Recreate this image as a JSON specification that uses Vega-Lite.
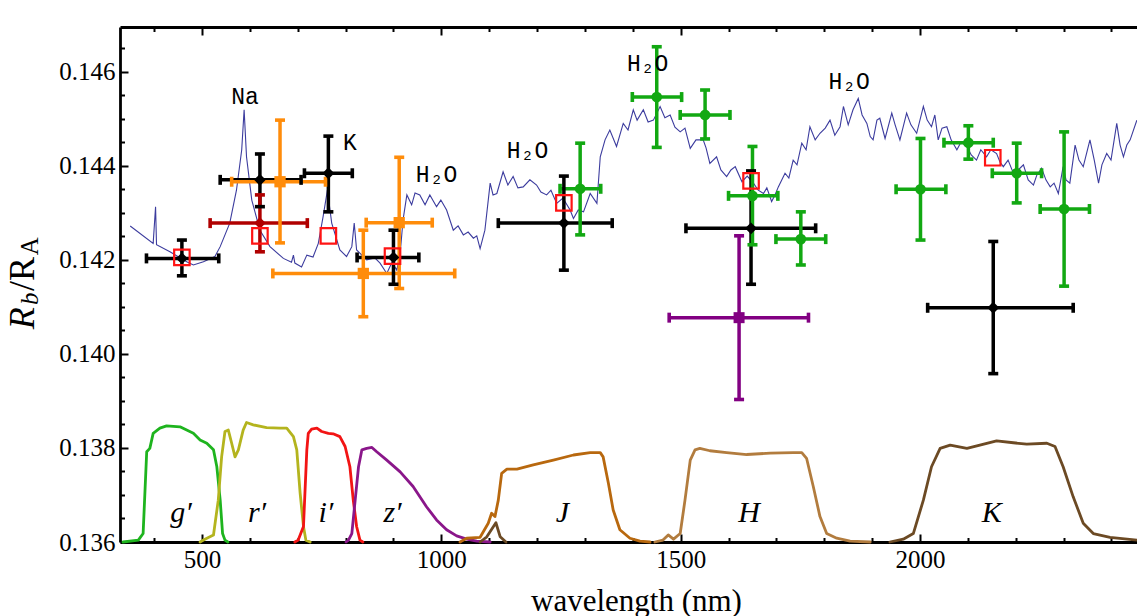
{
  "$schema": "https://vega.github.io/schema/vega-lite/v6.json",
  "width": 1017,
  "height": 515,
  "autosize": {"type": "none"},
  "padding": {"left": 120, "top": 27, "right": 0, "bottom": 74},
  "background": "white",
  "config": {"view": {"stroke": null}, "font": "Liberation Serif", "axis": {"labelFont": "Liberation Serif", "titleFont": "Liberation Serif"}},
  "resolve": {"axis": {"x": "independent", "y": "independent"}},
  "datasets": {
    "spectrum": [
      {"wl":350,"val":0.14272},{"wl":398,"val":0.14235},{"wl":403,"val":0.14313},{"wl":405,"val":0.14232},{"wl":433,"val":0.14217},{"wl":468,"val":0.14196},{"wl":482,"val":0.14189},{"wl":503,"val":0.14196},{"wl":527,"val":0.14207},{"wl":538,"val":0.14228},{"wl":558,"val":0.14278},{"wl":572,"val":0.14348},{"wl":583,"val":0.14434},{"wl":588,"val":0.14519},{"wl":593,"val":0.14419},{"wl":604,"val":0.14327},{"wl":621,"val":0.14263},{"wl":642,"val":0.14228},{"wl":670,"val":0.14203},{"wl":687,"val":0.14195},{"wl":691,"val":0.1421},{"wl":694,"val":0.14193},{"wl":708,"val":0.14185},{"wl":719,"val":0.1421},{"wl":732,"val":0.14206},{"wl":743,"val":0.14235},{"wl":753,"val":0.14292},{"wl":762,"val":0.14348},{"wl":771,"val":0.14278},{"wl":788,"val":0.14221},{"wl":802,"val":0.14207},{"wl":813,"val":0.14228},{"wl":818,"val":0.14278},{"wl":823,"val":0.14221},{"wl":844,"val":0.142},{"wl":861,"val":0.14204},{"wl":872,"val":0.14193},{"wl":886,"val":0.14171},{"wl":897,"val":0.14195},{"wl":907,"val":0.14178},{"wl":914,"val":0.14214},{"wl":920,"val":0.14285},{"wl":928,"val":0.14338},{"wl":938,"val":0.14317},{"wl":945,"val":0.14342},{"wl":955,"val":0.14338},{"wl":966,"val":0.14317},{"wl":976,"val":0.14338},{"wl":990,"val":0.14313},{"wl":999,"val":0.14327},{"wl":1011,"val":0.14306},{"wl":1025,"val":0.14263},{"wl":1035,"val":0.14272},{"wl":1046,"val":0.14253},{"wl":1056,"val":0.14259},{"wl":1067,"val":0.14246},{"wl":1074,"val":0.14251},{"wl":1081,"val":0.14224},{"wl":1091,"val":0.14263},{"wl":1102,"val":0.14363},{"wl":1108,"val":0.14338},{"wl":1116,"val":0.14341},{"wl":1129,"val":0.14387},{"wl":1139,"val":0.14359},{"wl":1150,"val":0.14377},{"wl":1160,"val":0.14353},{"wl":1171,"val":0.14355},{"wl":1185,"val":0.1437},{"wl":1199,"val":0.14359},{"wl":1208,"val":0.14344},{"wl":1220,"val":0.14338},{"wl":1229,"val":0.14348},{"wl":1241,"val":0.1432},{"wl":1254,"val":0.14331},{"wl":1269,"val":0.14306},{"wl":1276,"val":0.14288},{"wl":1286,"val":0.14306},{"wl":1297,"val":0.14302},{"wl":1311,"val":0.14341},{"wl":1325,"val":0.1432},{"wl":1332,"val":0.14419},{"wl":1342,"val":0.14455},{"wl":1352,"val":0.14476},{"wl":1366,"val":0.14441},{"wl":1380,"val":0.1449},{"wl":1390,"val":0.14476},{"wl":1401,"val":0.14519},{"wl":1409,"val":0.14497},{"wl":1422,"val":0.14519},{"wl":1432,"val":0.14493},{"wl":1443,"val":0.14497},{"wl":1457,"val":0.14526},{"wl":1467,"val":0.14502},{"wl":1478,"val":0.14508},{"wl":1488,"val":0.14482},{"wl":1499,"val":0.14472},{"wl":1509,"val":0.1448},{"wl":1520,"val":0.14437},{"wl":1532,"val":0.14455},{"wl":1547,"val":0.14455},{"wl":1553,"val":0.14438},{"wl":1561,"val":0.14405},{"wl":1575,"val":0.14419},{"wl":1584,"val":0.14391},{"wl":1596,"val":0.14377},{"wl":1605,"val":0.14391},{"wl":1614,"val":0.14398},{"wl":1628,"val":0.14366},{"wl":1639,"val":0.14378},{"wl":1652,"val":0.14363},{"wl":1662,"val":0.14348},{"wl":1673,"val":0.14341},{"wl":1680,"val":0.14353},{"wl":1690,"val":0.14324},{"wl":1697,"val":0.14338},{"wl":1704,"val":0.14355},{"wl":1718,"val":0.14384},{"wl":1726,"val":0.14374},{"wl":1735,"val":0.14412},{"wl":1743,"val":0.14402},{"wl":1753,"val":0.14448},{"wl":1762,"val":0.14434},{"wl":1770,"val":0.14483},{"wl":1781,"val":0.14455},{"wl":1791,"val":0.14469},{"wl":1802,"val":0.1448},{"wl":1812,"val":0.14497},{"wl":1822,"val":0.14465},{"wl":1833,"val":0.14483},{"wl":1840,"val":0.14526},{"wl":1850,"val":0.14487},{"wl":1860,"val":0.14519},{"wl":1871,"val":0.14543},{"wl":1879,"val":0.14508},{"wl":1889,"val":0.1449},{"wl":1896,"val":0.14462},{"wl":1902,"val":0.14455},{"wl":1910,"val":0.14497},{"wl":1916,"val":0.14501},{"wl":1927,"val":0.14458},{"wl":1941,"val":0.14512},{"wl":1948,"val":0.14487},{"wl":1958,"val":0.14455},{"wl":1972,"val":0.14512},{"wl":1981,"val":0.14487},{"wl":1993,"val":0.14469},{"wl":2007,"val":0.14526},{"wl":2015,"val":0.14497},{"wl":2024,"val":0.14483},{"wl":2031,"val":0.14508},{"wl":2038,"val":0.14455},{"wl":2046,"val":0.1448},{"wl":2056,"val":0.14483},{"wl":2065,"val":0.14455},{"wl":2077,"val":0.14434},{"wl":2086,"val":0.14451},{"wl":2098,"val":0.14441},{"wl":2107,"val":0.14423},{"wl":2118,"val":0.14412},{"wl":2127,"val":0.14434},{"wl":2139,"val":0.14419},{"wl":2148,"val":0.14434},{"wl":2160,"val":0.14426},{"wl":2167,"val":0.14408},{"wl":2174,"val":0.14398},{"wl":2184,"val":0.14412},{"wl":2195,"val":0.14384},{"wl":2205,"val":0.14391},{"wl":2216,"val":0.14402},{"wl":2226,"val":0.1437},{"wl":2237,"val":0.14359},{"wl":2244,"val":0.1438},{"wl":2254,"val":0.14395},{"wl":2263,"val":0.1437},{"wl":2272,"val":0.14355},{"wl":2280,"val":0.14363},{"wl":2289,"val":0.14341},{"wl":2299,"val":0.14398},{"wl":2305,"val":0.1437},{"wl":2313,"val":0.14363},{"wl":2324,"val":0.14444},{"wl":2332,"val":0.14412},{"wl":2341,"val":0.14398},{"wl":2355,"val":0.14455},{"wl":2364,"val":0.14412},{"wl":2373,"val":0.14363},{"wl":2380,"val":0.14402},{"wl":2390,"val":0.14426},{"wl":2399,"val":0.14412},{"wl":2411,"val":0.1449},{"wl":2418,"val":0.14444},{"wl":2425,"val":0.14419},{"wl":2432,"val":0.14444},{"wl":2439,"val":0.14455},{"wl":2453,"val":0.14497}
    ],
    "filters": [
      {"band":"g","piece":"g","wl":335,"val":0.136},{"band":"g","piece":"g","wl":367,"val":0.13604},{"band":"g","piece":"g","wl":377,"val":0.13618},{"band":"g","piece":"g","wl":384.5,"val":0.13792},{"band":"g","piece":"g","wl":391,"val":0.13799},{"band":"g","piece":"g","wl":398,"val":0.13831},{"band":"g","piece":"g","wl":412,"val":0.13842},{"band":"g","piece":"g","wl":426,"val":0.13847},{"band":"g","piece":"g","wl":454,"val":0.13845},{"band":"g","piece":"g","wl":468,"val":0.13838},{"band":"g","piece":"g","wl":482,"val":0.13831},{"band":"g","piece":"g","wl":496,"val":0.13817},{"band":"g","piece":"g","wl":510,"val":0.1381},{"band":"g","piece":"g","wl":524,"val":0.13796},{"band":"g","piece":"g","wl":531,"val":0.1376},{"band":"g","piece":"g","wl":538,"val":0.13689},{"band":"g","piece":"g","wl":543,"val":0.13618},{"band":"g","piece":"g","wl":548,"val":0.13604},{"band":"g","piece":"g","wl":554,"val":0.136},
      {"band":"r","piece":"r","wl":496,"val":0.136},{"band":"r","piece":"r","wl":506,"val":0.13606},{"band":"r","piece":"r","wl":524,"val":0.13615},{"band":"r","piece":"r","wl":534,"val":0.13689},{"band":"r","piece":"r","wl":541,"val":0.13781},{"band":"r","piece":"r","wl":548,"val":0.13835},{"band":"r","piece":"r","wl":555,"val":0.13838},{"band":"r","piece":"r","wl":562,"val":0.1381},{"band":"r","piece":"r","wl":569,"val":0.13781},{"band":"r","piece":"r","wl":576,"val":0.13796},{"band":"r","piece":"r","wl":586,"val":0.13838},{"band":"r","piece":"r","wl":593,"val":0.13854},{"band":"r","piece":"r","wl":607,"val":0.13849},{"band":"r","piece":"r","wl":635,"val":0.13843},{"band":"r","piece":"r","wl":663,"val":0.13842},{"band":"r","piece":"r","wl":677,"val":0.13842},{"band":"r","piece":"r","wl":691,"val":0.13824},{"band":"r","piece":"r","wl":698,"val":0.13796},{"band":"r","piece":"r","wl":705,"val":0.13704},{"band":"r","piece":"r","wl":712,"val":0.13633},{"band":"r","piece":"r","wl":717,"val":0.13604},{"band":"r","piece":"r","wl":726,"val":0.136},
      {"band":"i","piece":"i","wl":694,"val":0.136},{"band":"i","piece":"i","wl":701,"val":0.13604},{"band":"i","piece":"i","wl":712,"val":0.13633},{"band":"i","piece":"i","wl":719,"val":0.13796},{"band":"i","piece":"i","wl":722,"val":0.13831},{"band":"i","piece":"i","wl":729,"val":0.1384},{"band":"i","piece":"i","wl":740,"val":0.13842},{"band":"i","piece":"i","wl":750,"val":0.13835},{"band":"i","piece":"i","wl":764,"val":0.13831},{"band":"i","piece":"i","wl":774,"val":0.1383},{"band":"i","piece":"i","wl":788,"val":0.13824},{"band":"i","piece":"i","wl":799,"val":0.13803},{"band":"i","piece":"i","wl":809,"val":0.1376},{"band":"i","piece":"i","wl":816,"val":0.13689},{"band":"i","piece":"i","wl":823,"val":0.13633},{"band":"i","piece":"i","wl":830,"val":0.13604},{"band":"i","piece":"i","wl":836,"val":0.136},
      {"band":"z","piece":"z","wl":801,"val":0.136},{"band":"z","piece":"z","wl":806,"val":0.13604},{"band":"z","piece":"z","wl":813,"val":0.13618},{"band":"z","piece":"z","wl":820,"val":0.13689},{"band":"z","piece":"z","wl":827,"val":0.1376},{"band":"z","piece":"z","wl":834,"val":0.13796},{"band":"z","piece":"z","wl":844,"val":0.13799},{"band":"z","piece":"z","wl":855,"val":0.13801},{"band":"z","piece":"z","wl":865,"val":0.13792},{"band":"z","piece":"z","wl":886,"val":0.13774},{"band":"z","piece":"z","wl":914,"val":0.13749},{"band":"z","piece":"z","wl":941,"val":0.13718},{"band":"z","piece":"z","wl":969,"val":0.13675},{"band":"z","piece":"z","wl":990,"val":0.13647},{"band":"z","piece":"z","wl":1011,"val":0.13626},{"band":"z","piece":"z","wl":1032,"val":0.13613},{"band":"z","piece":"z","wl":1053,"val":0.13606},{"band":"z","piece":"z","wl":1074,"val":0.13602},{"band":"z","piece":"z","wl":1102,"val":0.136},
      {"band":"J","piece":"J","wl":1039,"val":0.136},{"band":"J","piece":"J","wl":1053,"val":0.13608},{"band":"J","piece":"J","wl":1081,"val":0.1361},{"band":"J","piece":"J","wl":1098,"val":0.1364},{"band":"J","piece":"J","wl":1105,"val":0.13661},{"band":"J","piece":"J","wl":1112,"val":0.13654},{"band":"J","piece":"J","wl":1119,"val":0.13689},{"band":"J","piece":"J","wl":1126,"val":0.13746},{"band":"J","piece":"J","wl":1137,"val":0.13755},{"band":"J","piece":"J","wl":1158,"val":0.13755},{"band":"J","piece":"J","wl":1192,"val":0.13764},{"band":"J","piece":"J","wl":1234,"val":0.13774},{"band":"J","piece":"J","wl":1276,"val":0.13785},{"band":"J","piece":"J","wl":1311,"val":0.1379},{"band":"J","piece":"J","wl":1332,"val":0.1379},{"band":"J","piece":"J","wl":1338,"val":0.13781},{"band":"J","piece":"J","wl":1349,"val":0.13725},{"band":"J","piece":"J","wl":1359,"val":0.13668},{"band":"J","piece":"J","wl":1373,"val":0.13626},{"band":"J","piece":"J","wl":1394,"val":0.13608},{"band":"J","piece":"J","wl":1415,"val":0.13602},{"band":"J","piece":"J","wl":1436,"val":0.136},
      {"band":"K","piece":"Kleak","wl":1081,"val":0.136},{"band":"K","piece":"Kleak","wl":1095,"val":0.13611},{"band":"K","piece":"Kleak","wl":1114,"val":0.13641},{"band":"K","piece":"Kleak","wl":1123,"val":0.13611},{"band":"K","piece":"Kleak","wl":1135,"val":0.136},
      {"band":"H","piece":"H","wl":1446,"val":0.136},{"band":"H","piece":"H","wl":1463,"val":0.13604},{"band":"H","piece":"H","wl":1474,"val":0.13615},{"band":"H","piece":"H","wl":1485,"val":0.13606},{"band":"H","piece":"H","wl":1499,"val":0.13618},{"band":"H","piece":"H","wl":1509,"val":0.13689},{"band":"H","piece":"H","wl":1520,"val":0.13774},{"band":"H","piece":"H","wl":1530,"val":0.13796},{"band":"H","piece":"H","wl":1540,"val":0.13799},{"band":"H","piece":"H","wl":1561,"val":0.13794},{"band":"H","piece":"H","wl":1596,"val":0.1379},{"band":"H","piece":"H","wl":1638,"val":0.13786},{"band":"H","piece":"H","wl":1687,"val":0.13789},{"band":"H","piece":"H","wl":1735,"val":0.1379},{"band":"H","piece":"H","wl":1753,"val":0.1379},{"band":"H","piece":"H","wl":1763,"val":0.13778},{"band":"H","piece":"H","wl":1777,"val":0.13718},{"band":"H","piece":"H","wl":1791,"val":0.13654},{"band":"H","piece":"H","wl":1805,"val":0.13618},{"band":"H","piece":"H","wl":1826,"val":0.13608},{"band":"H","piece":"H","wl":1854,"val":0.13602},{"band":"H","piece":"H","wl":1896,"val":0.136},
      {"band":"K","piece":"K","wl":1937,"val":0.136},{"band":"K","piece":"K","wl":1965,"val":0.13606},{"band":"K","piece":"K","wl":1986,"val":0.13618},{"band":"K","piece":"K","wl":2007,"val":0.13689},{"band":"K","piece":"K","wl":2024,"val":0.1376},{"band":"K","piece":"K","wl":2042,"val":0.13799},{"band":"K","piece":"K","wl":2063,"val":0.13806},{"band":"K","piece":"K","wl":2098,"val":0.13799},{"band":"K","piece":"K","wl":2125,"val":0.13806},{"band":"K","piece":"K","wl":2160,"val":0.13815},{"band":"K","piece":"K","wl":2195,"val":0.13811},{"band":"K","piece":"K","wl":2223,"val":0.13808},{"band":"K","piece":"K","wl":2265,"val":0.1381},{"band":"K","piece":"K","wl":2282,"val":0.13803},{"band":"K","piece":"K","wl":2299,"val":0.1376},{"band":"K","piece":"K","wl":2320,"val":0.13696},{"band":"K","piece":"K","wl":2341,"val":0.1364},{"band":"K","piece":"K","wl":2362,"val":0.13618},{"band":"K","piece":"K","wl":2397,"val":0.1361},{"band":"K","piece":"K","wl":2453,"val":0.13604}
    ],
    "points": [
      {"series":"black","wl":458,"val":0.14203,"wlo":384,"whi":535,"vlo":0.14166,"vhi":0.14242},
      {"series":"black","wl":621,"val":0.1437,"wlo":538,"whi":707,"vlo":0.14313,"vhi":0.14425},
      {"series":"black","wl":764,"val":0.14384,"wlo":714,"whi":814,"vlo":0.14302,"vhi":0.14463},
      {"series":"black","wl":900,"val":0.14205,"wlo":824,"whi":953,"vlo":0.14148,"vhi":0.14263},
      {"series":"black","wl":1256,"val":0.14278,"wlo":1119,"whi":1357,"vlo":0.14178,"vhi":0.14378},
      {"series":"black","wl":1647,"val":0.14267,"wlo":1511,"whi":1782,"vlo":0.14148,"vhi":0.14389},
      {"series":"black","wl":2153,"val":0.14098,"wlo":2016,"whi":2320,"vlo":0.13958,"vhi":0.14239},
      {"series":"darkred","wl":621,"val":0.14278,"wlo":517,"whi":720,"vlo":0.14217,"vhi":0.14338},
      {"series":"orange","wl":663,"val":0.14366,"wlo":562,"whi":758,"vlo":0.14236,"vhi":0.14497},
      {"series":"orange","wl":837,"val":0.14171,"wlo":648,"whi":1028,"vlo":0.14079,"vhi":0.14263},
      {"series":"orange","wl":912,"val":0.14279,"wlo":843,"whi":981,"vlo":0.14139,"vhi":0.14418},
      {"series":"purple","wl":1622,"val":0.14077,"wlo":1476,"whi":1767,"vlo":0.13903,"vhi":0.14251},
      {"series":"green","wl":1290,"val":0.14351,"wlo":1248,"whi":1333,"vlo":0.14253,"vhi":0.14448},
      {"series":"green","wl":1450,"val":0.14546,"wlo":1399,"whi":1502,"vlo":0.14439,"vhi":0.14653},
      {"series":"green","wl":1551,"val":0.14508,"wlo":1499,"whi":1603,"vlo":0.14457,"vhi":0.14561},
      {"series":"green","wl":1650,"val":0.14336,"wlo":1600,"whi":1703,"vlo":0.14232,"vhi":0.14441},
      {"series":"green","wl":1751,"val":0.14244,"wlo":1699,"whi":1803,"vlo":0.14189,"vhi":0.14302},
      {"series":"green","wl":2001,"val":0.1435,"wlo":1950,"whi":2054,"vlo":0.14242,"vhi":0.14458},
      {"series":"green","wl":2101,"val":0.14449,"wlo":2050,"whi":2153,"vlo":0.14414,"vhi":0.14485},
      {"series":"green","wl":2202,"val":0.14384,"wlo":2151,"whi":2254,"vlo":0.14321,"vhi":0.14448},
      {"series":"green","wl":2301,"val":0.14308,"wlo":2251,"whi":2354,"vlo":0.14144,"vhi":0.14472}
    ],
    "model": [
      {"wl":458,"val":0.14205},{"wl":621,"val":0.14251},{"wl":764,"val":0.14251},{"wl":898,"val":0.14208},{"wl":1256,"val":0.14321},{"wl":1647,"val":0.14368},{"wl":2152,"val":0.14417}
    ],
    "species": [
      {"t":"Na","wl":590,"val":0.14546},{"t":"K","wl":809,"val":0.14448},{"t":"H₂O","wl":990,"val":0.1438},{"t":"H₂O","wl":1180,"val":0.14431},{"t":"H₂O","wl":1431,"val":0.14616},{"t":"H₂O","wl":1852,"val":0.14578}
    ],
    "bands": [
      {"t":"g′","wl":456,"val":0.13643},{"t":"r′","wl":615,"val":0.13643},{"t":"i′","wl":759,"val":0.13643},{"t":"z′","wl":898,"val":0.13643},{"t":"J","wl":1253,"val":0.13643},{"t":"H","wl":1643,"val":0.13643},{"t":"K","wl":2150,"val":0.13643}
    ],
    "ytitle": [
      {"piece":"R1","t":"R","wl":148,"val":0.14076},
      {"piece":"b","t":"b","wl":157,"val":0.14117},
      {"piece":"R2","t":"/R","wl":148,"val":0.1417},
      {"piece":"A","t":"A","wl":157,"val":0.14229}
    ]
  },
  "layer": [
    {
      "data": {"name": "filters"},
      "mark": {"type": "line", "strokeWidth": 2.8, "strokeJoin": "round", "strokeCap": "round"},
      "encoding": {
        "x": {"field": "wl", "type": "quantitative", "scale": {"domain": [328.7, 2453.3], "nice": false, "zero": false},
          "axis": {"orient": "bottom", "values": [400,500,600,700,800,900,1000,1100,1200,1300,1400,1500,1600,1700,1800,1900,2000,2100,2200,2300,2400],
            "format": "d", "labelExpr": "datum.value % 500 === 0 ? datum.label : ''",
            "tickSize": {"condition": {"test": "datum.value % 500 === 0", "value": -8}, "value": -4.5},
            "tickWidth": 2, "tickColor": "black", "domainColor": "black", "domainWidth": 2.8, "grid": false,
            "labelFont": "Liberation Serif", "labelFontSize": 25, "labelColor": "black", "labelPadding": 13, "labelFlush": false, "labelOverlap": false, "labelBound": false,
            "title": "wavelength (nm)", "titleFont": "Liberation Serif", "titleFontSize": 31, "titleFontWeight": "normal", "titleColor": "black",
            "titleX": 516, "titleY": 68, "titleBaseline": "alphabetic", "titleAlign": "center"}},
        "y": {"field": "val", "type": "quantitative", "scale": {"domain": [0.136, 0.14695], "nice": false, "zero": false},
          "axis": {"orient": "left", "values": [0.136,0.1365,0.137,0.1375,0.138,0.1385,0.139,0.1395,0.14,0.1405,0.141,0.1415,0.142,0.1425,0.143,0.1435,0.144,0.1445,0.145,0.1455,0.146,0.1465],
            "format": ".3f", "labelExpr": "round(datum.value*10000) % 20 === 0 ? datum.label : ''",
            "tickSize": {"condition": {"test": "round(datum.value*10000) % 20 === 0", "value": -8}, "value": -4.5},
            "tickWidth": 2, "tickColor": "black", "domainColor": "black", "domainWidth": 2.8, "grid": false,
            "labelFont": "Liberation Serif", "labelFontSize": 25, "labelColor": "black", "labelPadding": 13, "labelFlush": false, "labelOverlap": false, "labelBound": false,
            "title": null}},
        "color": {"field": "band", "type": "nominal", "legend": null,
          "scale": {"domain": ["black","darkred","orange","purple","green","g","r","i","z","J","H","K"],
                    "range": ["#000000","#b00000","#ff8c0a","#820082","#12a812","#1eb41e","#b4b41e","#f21414","#8a168a","#b8680e","#b27c3e","#6c4a24"]}},
        "detail": {"field": "piece"}
      }
    },
    {
      "data": {"name": "spectrum"},
      "mark": {"type": "line", "color": "#3c3c9e", "strokeWidth": 1.1},
      "encoding": {
        "x": {"field": "wl", "type": "quantitative",
          "axis": {"orient": "top", "values": [400,500,600,700,800,900,1000,1100,1200,1300,1400,1500,1600,1700,1800,1900,2000,2100,2200,2300,2400],
            "labels": false, "tickSize": {"condition": {"test": "datum.value % 500 === 0", "value": -8}, "value": -4.5},
            "tickWidth": 2, "tickColor": "black", "domainColor": "black", "domainWidth": 2.8, "grid": false, "title": null}},
        "y": {"field": "val", "type": "quantitative", "axis": null}
      }
    },
    {
      "data": {"name": "points"},
      "mark": {"type": "rule", "strokeWidth": 3.5},
      "encoding": {
        "x": {"field": "wlo", "type": "quantitative", "axis": null},
        "x2": {"field": "whi"},
        "y": {"field": "val", "type": "quantitative", "axis": null},
        "color": {"field": "series", "type": "nominal", "legend": null,
          "scale": {"domain": ["black","darkred","orange","purple","green","g","r","i","z","J","H","K"],
                    "range": ["#000000","#b00000","#ff8c0a","#820082","#12a812","#1eb41e","#b4b41e","#f21414","#8a168a","#b8680e","#b27c3e","#6c4a24"]}}
      }
    },
    {
      "data": {"name": "points"},
      "mark": {"type": "rule", "strokeWidth": 3.5},
      "encoding": {
        "x": {"field": "wl", "type": "quantitative", "axis": null},
        "y": {"field": "vlo", "type": "quantitative", "axis": null},
        "y2": {"field": "vhi"},
        "color": {"field": "series", "type": "nominal", "legend": null,
          "scale": {"domain": ["black","darkred","orange","purple","green","g","r","i","z","J","H","K"],
                    "range": ["#000000","#b00000","#ff8c0a","#820082","#12a812","#1eb41e","#b4b41e","#f21414","#8a168a","#b8680e","#b27c3e","#6c4a24"]}}
      }
    },
    {
      "data": {"name": "points"},
      "mark": {"type": "tick", "orient": "vertical", "size": 10, "thickness": 3.6, "opacity": 1},
      "encoding": {
        "x": {"field": "wlo", "type": "quantitative", "axis": null},
        "y": {"field": "val", "type": "quantitative", "axis": null},
        "color": {"field": "series", "type": "nominal", "legend": null,
          "scale": {"domain": ["black","darkred","orange","purple","green","g","r","i","z","J","H","K"],
                    "range": ["#000000","#b00000","#ff8c0a","#820082","#12a812","#1eb41e","#b4b41e","#f21414","#8a168a","#b8680e","#b27c3e","#6c4a24"]}}
      }
    },
    {
      "data": {"name": "points"},
      "mark": {"type": "tick", "orient": "vertical", "size": 10, "thickness": 3.6, "opacity": 1},
      "encoding": {
        "x": {"field": "whi", "type": "quantitative", "axis": null},
        "y": {"field": "val", "type": "quantitative", "axis": null},
        "color": {"field": "series", "type": "nominal", "legend": null,
          "scale": {"domain": ["black","darkred","orange","purple","green","g","r","i","z","J","H","K"],
                    "range": ["#000000","#b00000","#ff8c0a","#820082","#12a812","#1eb41e","#b4b41e","#f21414","#8a168a","#b8680e","#b27c3e","#6c4a24"]}}
      }
    },
    {
      "data": {"name": "points"},
      "mark": {"type": "tick", "orient": "horizontal", "size": 10, "thickness": 3.6, "opacity": 1},
      "encoding": {
        "x": {"field": "wl", "type": "quantitative", "axis": null},
        "y": {"field": "vlo", "type": "quantitative", "axis": null},
        "color": {"field": "series", "type": "nominal", "legend": null,
          "scale": {"domain": ["black","darkred","orange","purple","green","g","r","i","z","J","H","K"],
                    "range": ["#000000","#b00000","#ff8c0a","#820082","#12a812","#1eb41e","#b4b41e","#f21414","#8a168a","#b8680e","#b27c3e","#6c4a24"]}}
      }
    },
    {
      "data": {"name": "points"},
      "mark": {"type": "tick", "orient": "horizontal", "size": 10, "thickness": 3.6, "opacity": 1},
      "encoding": {
        "x": {"field": "wl", "type": "quantitative", "axis": null},
        "y": {"field": "vhi", "type": "quantitative", "axis": null},
        "color": {"field": "series", "type": "nominal", "legend": null,
          "scale": {"domain": ["black","darkred","orange","purple","green","g","r","i","z","J","H","K"],
                    "range": ["#000000","#b00000","#ff8c0a","#820082","#12a812","#1eb41e","#b4b41e","#f21414","#8a168a","#b8680e","#b27c3e","#6c4a24"]}}
      }
    },
    {
      "data": {"name": "points"},
      "mark": {"type": "point", "filled": true, "opacity": 1},
      "encoding": {
        "x": {"field": "wl", "type": "quantitative", "axis": null},
        "y": {"field": "val", "type": "quantitative", "axis": null},
        "color": {"field": "series", "type": "nominal", "legend": null,
          "scale": {"domain": ["black","darkred","orange","purple","green","g","r","i","z","J","H","K"],
                    "range": ["#000000","#b00000","#ff8c0a","#820082","#12a812","#1eb41e","#b4b41e","#f21414","#8a168a","#b8680e","#b27c3e","#6c4a24"]}},
        "shape": {"field": "series", "type": "nominal", "legend": null,
          "scale": {"domain": ["black","darkred","orange","purple","green"], "range": ["diamond","diamond","square","square","circle"]}},
        "size": {"field": "series", "type": "nominal", "legend": null,
          "scale": {"domain": ["black","darkred","orange","purple","green"], "range": [140, 115, 100, 150, 85]}}
      }
    },
    {
      "data": {"name": "model"},
      "mark": {"type": "point", "shape": "square", "filled": false, "stroke": "#ff1414", "strokeWidth": 2.2, "size": 240, "opacity": 1},
      "encoding": {
        "x": {"field": "wl", "type": "quantitative", "axis": null},
        "y": {"field": "val", "type": "quantitative", "axis": null}
      }
    },
    {
      "data": {"name": "species"},
      "mark": {"type": "text", "font": "Liberation Mono", "fontSize": 23, "color": "black", "align": "center", "baseline": "middle"},
      "encoding": {
        "x": {"field": "wl", "type": "quantitative", "axis": null},
        "y": {"field": "val", "type": "quantitative", "axis": null},
        "text": {"field": "t"}
      }
    },
    {
      "data": {"name": "bands"},
      "mark": {"type": "text", "font": "Liberation Serif", "fontStyle": "italic", "fontSize": 30, "color": "black", "align": "center", "baseline": "alphabetic"},
      "encoding": {
        "x": {"field": "wl", "type": "quantitative", "axis": null},
        "y": {"field": "val", "type": "quantitative", "axis": null},
        "text": {"field": "t"}
      }
    },
    {
      "data": {"name": "ytitle"},
      "transform": [{"filter": "datum.piece === 'R1'"}],
      "mark": {"type": "text", "font": "Liberation Serif", "fontStyle": "italic", "fontSize": 36, "color": "black", "align": "center", "baseline": "alphabetic", "angle": 270},
      "encoding": {
        "x": {"field": "wl", "type": "quantitative", "axis": null},
        "y": {"field": "val", "type": "quantitative", "axis": null},
        "text": {"field": "t"}
      }
    },
    {
      "data": {"name": "ytitle"},
      "transform": [{"filter": "datum.piece === 'b'"}],
      "mark": {"type": "text", "font": "Liberation Serif", "fontStyle": "italic", "fontSize": 25, "color": "black", "align": "center", "baseline": "alphabetic", "angle": 270},
      "encoding": {
        "x": {"field": "wl", "type": "quantitative", "axis": null},
        "y": {"field": "val", "type": "quantitative", "axis": null},
        "text": {"field": "t"}
      }
    },
    {
      "data": {"name": "ytitle"},
      "transform": [{"filter": "datum.piece === 'R2'"}],
      "mark": {"type": "text", "font": "Liberation Serif", "fontSize": 36, "color": "black", "align": "center", "baseline": "alphabetic", "angle": 270},
      "encoding": {
        "x": {"field": "wl", "type": "quantitative", "axis": null},
        "y": {"field": "val", "type": "quantitative", "axis": null},
        "text": {"field": "t"}
      }
    },
    {
      "data": {"name": "ytitle"},
      "transform": [{"filter": "datum.piece === 'A'"}],
      "mark": {"type": "text", "font": "Liberation Serif", "fontSize": 25, "color": "black", "align": "center", "baseline": "alphabetic", "angle": 270},
      "encoding": {
        "x": {"field": "wl", "type": "quantitative", "axis": null},
        "y": {"field": "val", "type": "quantitative", "axis": null},
        "text": {"field": "t"}
      }
    }
  ]
}
